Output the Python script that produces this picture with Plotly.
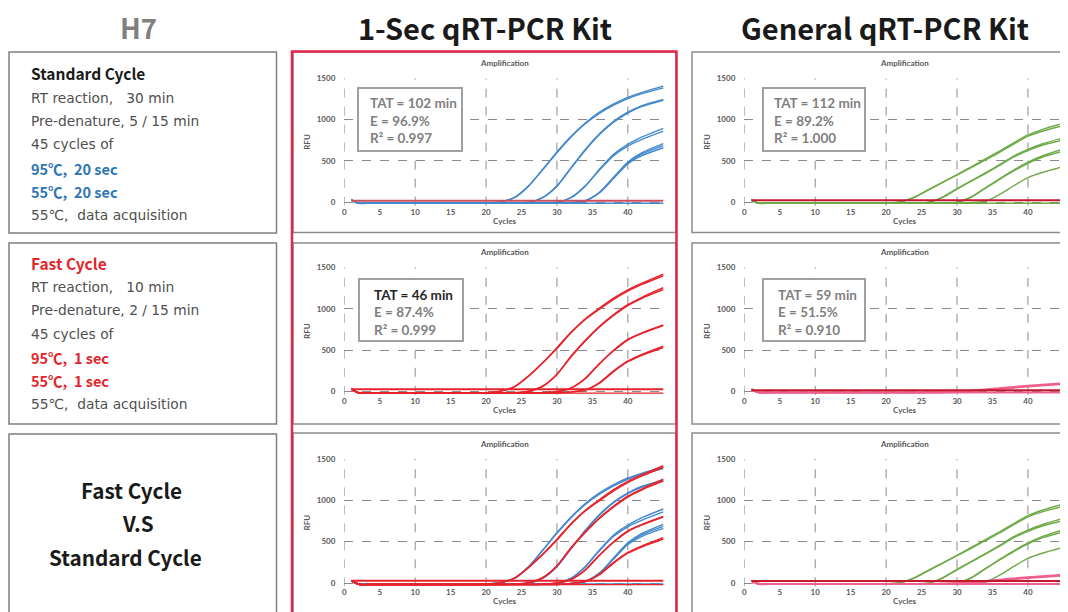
import plotly.graph_objects as go

# page body has an 8px margin; the figure is laid out in reference-pixel coordinates
OFF = 8
W, H = 1068 - OFF, 612 - OFF

# ---------------- data ----------------
CYC = [1, 2, 4, 10, 16, 20, 22, 24, 26, 28, 30, 32, 34, 36, 38, 40, 42, 45]
X_TICKS = [0, 5, 10, 15, 20, 25, 30, 35, 40]
X_GRID = [0, 10, 20, 30, 40]
Y_TICKS = [0, 500, 1000, 1500]

# Standard cycle, 1-Sec kit (blue)
STD_1SEC_A1 = [30, -10, -12, -12, -12, -10, 5, 60, 200, 400, 610, 800, 960, 1090, 1190, 1270, 1330, 1405]
STD_1SEC_A2 = [28, -10, -12, -12, -12, -10, 3, 55, 195, 395, 600, 790, 950, 1075, 1175, 1255, 1315, 1385]
STD_1SEC_B1 = [30, -10, -12, -12, -12, -12, -12, -10, 0, 60, 200, 420, 640, 830, 980, 1090, 1170, 1245]
STD_1SEC_B2 = [28, -10, -12, -12, -12, -12, -12, -10, -2, 55, 195, 415, 630, 820, 970, 1080, 1160, 1235]
STD_1SEC_C1 = [30, -10, -12, -12, -12, -12, -12, -12, -12, -10, 0, 60, 200, 400, 580, 700, 790, 895]
STD_1SEC_C2 = [28, -10, -12, -12, -12, -12, -12, -12, -12, -10, -2, 55, 195, 390, 565, 680, 760, 860]
STD_1SEC_D1 = [30, -10, -12, -12, -12, -12, -12, -12, -12, -12, -12, -5, 20, 122, 304, 486, 600, 710]
STD_1SEC_D2 = [28, -10, -12, -12, -12, -12, -12, -12, -12, -12, -12, -6, 18, 115, 290, 465, 565, 660]
STD_1SEC_D3 = [29, -10, -12, -12, -12, -12, -12, -12, -12, -12, -12, -6, 19, 118, 297, 475, 585, 685]
STD_1SEC_NEG = [25, -12, -12, -12, -12, -12, -12, -12, -12, -12, -12, -12, -12, -12, -12, -12, -12, -12]
STD_1SEC_THRESHOLD = 20

# Standard cycle, General kit (green)
STD_GEN_A1 = [30, -10, -12, -12, -12, -10, 5, 65, 155, 245, 335, 430, 525, 620, 720, 815, 880, 955]
STD_GEN_A2 = [28, -10, -12, -12, -12, -10, 3, 60, 150, 240, 330, 420, 512, 605, 705, 800, 860, 927]
STD_GEN_B1 = [30, -10, -12, -12, -12, -12, -12, -10, 0, 65, 165, 260, 355, 455, 560, 640, 705, 782]
STD_GEN_B2 = [28, -10, -12, -12, -12, -12, -12, -10, -2, 60, 160, 255, 348, 445, 548, 625, 690, 754]
STD_GEN_C1 = [30, -10, -12, -12, -12, -12, -12, -12, -12, -10, 0, 65, 175, 285, 390, 485, 560, 645]
STD_GEN_C2 = [28, -10, -12, -12, -12, -12, -12, -12, -12, -10, -2, 60, 170, 278, 380, 472, 545, 620]
STD_GEN_D1 = [30, -10, -12, -12, -12, -12, -12, -12, -12, -12, -12, -5, 10, 95, 200, 298, 360, 431]
STD_GEN_NEG = [25, -12, -12, -12, -12, -12, -12, -12, -12, -12, -12, -12, -12, -12, -12, -12, -12, -12]
STD_GEN_THRESHOLD = 25

# Fast cycle, 1-Sec kit (red)
FAST_1SEC_A1 = [30, -15, -18, -18, -18, -15, 5, 60, 190, 350, 530, 720, 880, 1010, 1130, 1230, 1310, 1420]
FAST_1SEC_A2 = [28, -15, -18, -18, -18, -15, 3, 55, 185, 345, 520, 710, 870, 995, 1115, 1215, 1295, 1400]
FAST_1SEC_B1 = [30, -15, -18, -18, -18, -18, -18, -15, 5, 68, 210, 430, 620, 790, 930, 1050, 1140, 1255]
FAST_1SEC_B2 = [28, -15, -18, -18, -18, -18, -18, -15, 3, 62, 205, 420, 610, 780, 920, 1040, 1128, 1232]
FAST_1SEC_C1 = [30, -15, -18, -18, -18, -18, -18, -18, -18, -15, 0, 45, 160, 340, 500, 630, 710, 805]
FAST_1SEC_C2 = [28, -15, -18, -18, -18, -18, -18, -18, -18, -15, -2, 42, 155, 333, 492, 622, 702, 797]
FAST_1SEC_D1 = [30, -15, -18, -18, -18, -18, -18, -18, -18, -18, -18, -5, 20, 108, 250, 370, 450, 550]
FAST_1SEC_D2 = [28, -15, -18, -18, -18, -18, -18, -18, -18, -18, -18, -7, 16, 100, 240, 360, 438, 532]
FAST_1SEC_NEG = [25, -20, -20, -20, -20, -20, -20, -20, -20, -20, -20, -20, -20, -20, -20, -20, -20, -20]
FAST_1SEC_THRESHOLD = 28

# Fast cycle, General kit (pink)
FAST_GEN_A1 = [30, -10, -12, -12, -12, -12, -12, -12, -10, -8, -2, 10, 25, 40, 55, 70, 82, 100]
FAST_GEN_A2 = [28, -10, -12, -12, -12, -12, -12, -12, -12, -10, -5, 5, 18, 32, 46, 60, 72, 90]
FAST_GEN_NEG = [25, -12, -12, -12, -12, -12, -12, -12, -12, -12, -12, -12, -12, -12, -12, -12, -12, -12]
FAST_GEN_THRESHOLD = 16

BLUE = "#4389cc"
RED = "#e8222b"
GREEN = "#6eaa48"
PINK = "#ef5f8c"
THR1 = "#cf4f5a"
THR2 = "#c3172e"

STD_1SEC = [STD_1SEC_A1, STD_1SEC_A2, STD_1SEC_B1, STD_1SEC_B2, STD_1SEC_C1, STD_1SEC_C2,
            STD_1SEC_D1, STD_1SEC_D2, STD_1SEC_D3, STD_1SEC_NEG]
STD_GEN = [STD_GEN_A1, STD_GEN_A2, STD_GEN_B1, STD_GEN_B2, STD_GEN_C1, STD_GEN_C2,
           STD_GEN_D1, STD_GEN_NEG]
FAST_1SEC = [FAST_1SEC_A1, FAST_1SEC_A2, FAST_1SEC_B1, FAST_1SEC_B2, FAST_1SEC_C1, FAST_1SEC_C2,
             FAST_1SEC_D1, FAST_1SEC_D2, FAST_1SEC_NEG]
FAST_GEN = [FAST_GEN_A1, FAST_GEN_A2, FAST_GEN_NEG]

# ---------------- helpers ----------------
def px(x):
    return (x - OFF) / W


def py(y):
    return 1 - (y - OFF) / H


fig = go.Figure()


def add_curves(n, series, color, width=1.4):
    ax = "" if n == 1 else str(n)
    for s in series:
        fig.add_trace(go.Scatter(x=CYC, y=s, mode="lines", xaxis="x" + ax, yaxis="y" + ax,
                                 line=dict(color=color, width=width, shape="spline", smoothing=0.7),
                                 showlegend=False, hoverinfo="skip"))


def add_threshold(n, value, color):
    ax = "" if n == 1 else str(n)
    fig.add_trace(go.Scatter(x=[CYC[0], CYC[-1]], y=[value, value], mode="lines",
                             xaxis="x" + ax, yaxis="y" + ax,
                             line=dict(color=color, width=2), showlegend=False, hoverinfo="skip"))


add_curves(1, STD_1SEC, BLUE)
add_threshold(1, STD_1SEC_THRESHOLD, THR1)
add_curves(2, STD_GEN, GREEN)
add_threshold(2, STD_GEN_THRESHOLD, THR2)
add_curves(3, FAST_1SEC, RED)
add_threshold(3, FAST_1SEC_THRESHOLD, RED)
add_curves(4, FAST_GEN, PINK, 2)
add_threshold(4, FAST_GEN_THRESHOLD, THR2)
add_curves(5, STD_1SEC, BLUE)
add_curves(5, FAST_1SEC, RED)
add_threshold(5, FAST_1SEC_THRESHOLD, RED)
add_curves(6, STD_GEN, GREEN)
add_curves(6, FAST_GEN, PINK, 2)
add_threshold(6, STD_GEN_THRESHOLD, THR2)

# ---------------- axes ----------------
XDOM = {"mid": [px(344.3), px(664.7)], "right": [px(744.3), px(1064.8)]}
ROW_TOP = [78.3, 267.5, 459.0]
YR = [-40, 1500]
SCALE = 124.0 / 1500
TICKFONT = dict(family="Lato", size=8, color="#595959", weight="bold")

panels = {1: ("mid", 0), 2: ("right", 0), 3: ("mid", 1), 4: ("right", 1), 5: ("mid", 2), 6: ("right", 2)}
layout_axes = {}
annotations = []
shapes = []

for n, (col, row) in panels.items():
    ax = "" if n == 1 else str(n)
    top = ROW_TOP[row]
    bottom = top + (YR[1] - YR[0]) * SCALE
    layout_axes["xaxis" + ax] = dict(domain=XDOM[col], anchor="y" + ax, range=[0, 45.2],
                                     tickvals=X_TICKS, showgrid=False, zeroline=False,
                                     showline=False, ticks="", tickfont=TICKFONT,
                                     title=dict(text="Cycles", font=dict(family="Lato", size=8, color="#595959", weight="bold"), standoff=2))
    layout_axes["yaxis" + ax] = dict(domain=[py(bottom), py(top)], anchor="x" + ax, range=YR,
                                     tickvals=Y_TICKS, showgrid=True, gridcolor="#8a8a8a",
                                     griddash="dash", gridwidth=1, zeroline=False, showline=False,
                                     ticks="", tickfont=TICKFONT, ticklabelstandoff=8,
                                     title=dict(text="RFU", font=dict(family="Lato", size=8, color="#595959", weight="bold"), standoff=4))
    for g in X_GRID:
        shapes.append(dict(type="line", xref="x" + ax, yref="y" + ax + " domain", x0=g, x1=g,
                           y0=0, y1=1, line=dict(color="#8a8a8a", width=1, dash="dash"), layer="below"))
    xc = (XDOM[col][0] + XDOM[col][1]) / 2
    annotations.append(dict(text="Amplification", xref="paper", yref="paper", x=xc, y=py(top - 15.5),
                            xanchor="center", yanchor="middle", showarrow=False,
                            font=dict(family="Lato", size=8, color="#595959", weight="bold")))

# chart borders
CHART_ROWS = [(52, 232.5), (243, 424), (433, 640)]
for (t, b) in CHART_ROWS:
    shapes.append(dict(type="rect", xref="paper", yref="paper", x0=px(293), x1=px(676), y0=py(b), y1=py(t),
                       line=dict(color="#8c8c8c", width=1.5), layer="below"))
    shapes.append(dict(type="rect", xref="paper", yref="paper", x0=px(692), x1=px(1090), y0=py(b), y1=py(t),
                       line=dict(color="#8c8c8c", width=1.5), layer="below"))

# red frame around the 1-Sec column
shapes.append(dict(type="rect", xref="paper", yref="paper", x0=px(292), x1=px(676.5), y0=py(640), y1=py(51.5),
                   line=dict(color="#e3264a", width=2.5)))

# left info boxes
for (t, b) in [(52, 233), (243, 424), (434, 640)]:
    shapes.append(dict(type="rect", xref="paper", yref="paper", x0=px(9), x1=px(276.5), y0=py(b), y1=py(t),
                       line=dict(color="#7f7f7f", width=1.5), layer="below"))

# stat boxes
STAT_BOXES = [
    (358, 462, 88, 151, ["TAT = 102 min", "E = 96.9%", "R² = 0.997"], 368, [103, 120.5, 138]),
    (763, 865, 88, 151, ["TAT = 112 min", "E = 89.2%", "R² = 1.000"], 772, [103, 120.5, 138]),
    (359, 463, 279, 341, ["TAT = 46 min", "E = 87.4%", "R² = 0.999"], 372, [294.5, 311.5, 329.5]),
    (763, 865, 279, 341, ["TAT = 59 min", "E = 51.5%", "R² = 0.910"], 776, [294.5, 311.5, 329.5]),
]
for i, (x0, x1, y0, y1, lines, tx, tys) in enumerate(STAT_BOXES):
    shapes.append(dict(type="rect", xref="paper", yref="paper", x0=px(x0), x1=px(x1), y0=py(y1), y1=py(y0),
                       line=dict(color="#a0a0a0", width=2), fillcolor="white", layer="above"))
    for j, (txt, ty) in enumerate(zip(lines, tys)):
        c = "#262626" if (i == 2 and j == 0) else "#7f7f7f"
        annotations.append(dict(text=txt, xref="paper", yref="paper", x=px(tx), y=py(ty),
                                xanchor="left", yanchor="middle", showarrow=False,
                                font=dict(family="Lato", size=13.5, color=c, weight="bold")))

# titles
TITLE_FONT = "Noto Sans CJK KR"
for txt, x, sz, c in [("H7", 138, 27.5, "#808080"),
                      ("1-Sec qRT-PCR Kit", 485, 29, "#1a1a1a"),
                      ("General qRT-PCR Kit", 885, 29, "#1a1a1a")]:
    annotations.append(dict(text=txt, xref="paper", yref="paper", x=px(x), y=py(26.5),
                            xanchor="center", yanchor="middle", showarrow=False,
                            font=dict(family=TITLE_FONT, size=sz, color=c, weight="bold")))

# left box texts
REG_FONT = "DejaVu Sans"
BOLD_FONT = "Noto Sans CJK KR"
box1 = [("Standard Cycle", 73, "#1a1a1a", True, 15.5),
        ("RT reaction,   30 min", 98, "#505050", False, 13.8),
        ("Pre-denature, 5 / 15 min", 121, "#505050", False, 13.8),
        ("45 cycles of", 144, "#505050", False, 13.8),
        ("95℃,  20 sec", 168, "#2f74b5", True, 14.5),
        ("55℃,  20 sec", 191, "#2f74b5", True, 14.5),
        ("55℃,  data acquisition", 215, "#505050", False, 13.8)]
box2 = [("Fast Cycle", 263, "#e3262b", True, 15.5),
        ("RT reaction,   10 min", 287, "#505050", False, 13.8),
        ("Pre-denature, 2 / 15 min", 310, "#505050", False, 13.8),
        ("45 cycles of", 334, "#505050", False, 13.8),
        ("95℃,  1 sec", 357, "#e3262b", True, 14.5),
        ("55℃,  1 sec", 380, "#e3262b", True, 14.5),
        ("55℃,  data acquisition", 404, "#505050", False, 13.8)]
for txt, y, c, bold, sz in box1 + box2:
    annotations.append(dict(text=txt, xref="paper", yref="paper", x=px(29), y=py(y), xanchor="left",
                            yanchor="middle", showarrow=False,
                            font=dict(family=BOLD_FONT if bold else REG_FONT, size=sz, color=c,
                                      weight="bold" if bold else "normal")))
for txt, x, y in [("Fast Cycle", 131, 490), ("V.S", 138, 523), ("Standard Cycle", 125, 557)]:
    annotations.append(dict(text=txt, xref="paper", yref="paper", x=px(x), y=py(y), showarrow=False,
                            xanchor="center", yanchor="middle",
                            font=dict(family=BOLD_FONT, size=20.7, color="#1a1a1a", weight="bold")))

fig.update_layout(width=W, height=H, margin=dict(l=0, r=0, t=0, b=0, autoexpand=False),
                  paper_bgcolor="white", plot_bgcolor="rgba(0,0,0,0)",
                  shapes=shapes, annotations=annotations, **layout_axes)

fig.write_html("out.html")
